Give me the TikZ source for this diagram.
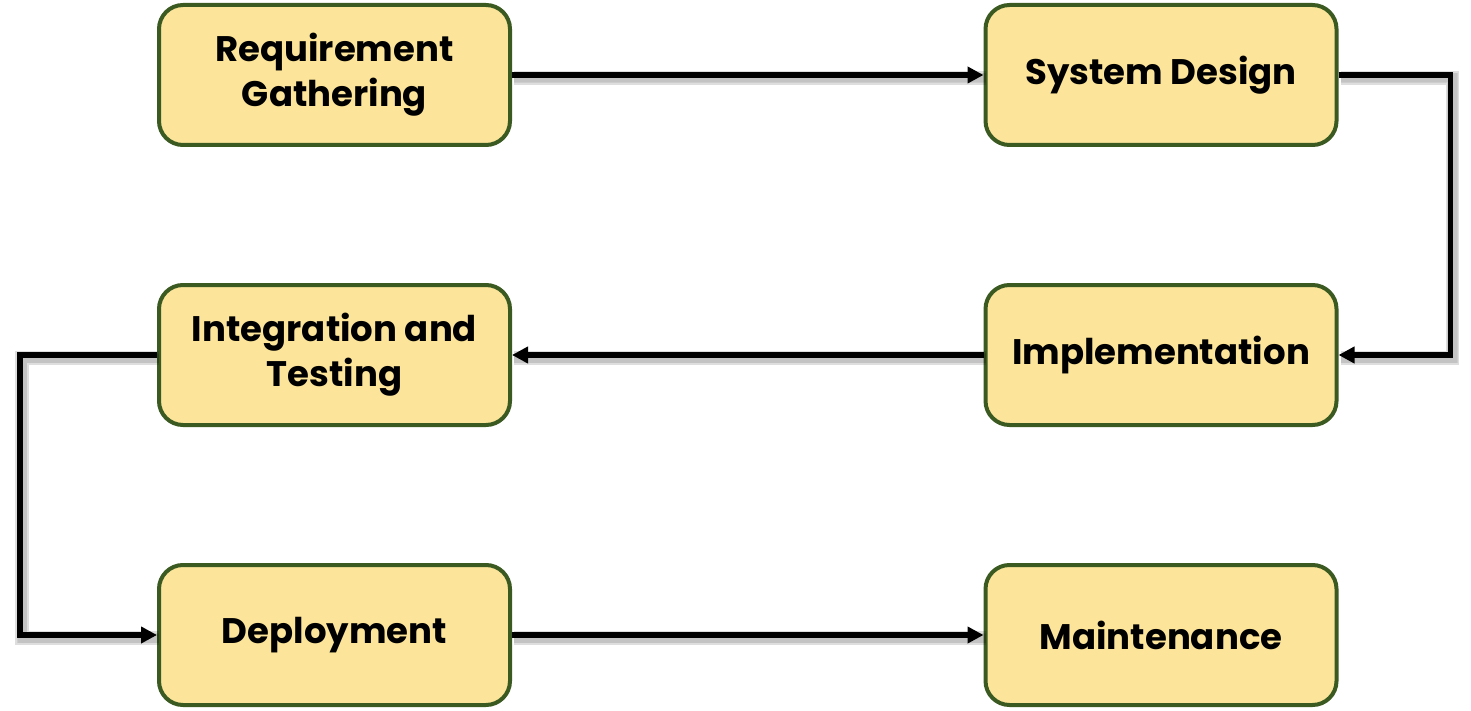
\documentclass[tikz,border=0pt]{standalone}
\usepackage{fontspec}
\setmainfont{Poppins}
\usetikzlibrary{arrows.meta}
\definecolor{boxfill}{HTML}{FCE59A}
\definecolor{boxline}{HTML}{3B5A22}
\begin{document}
\begin{tikzpicture}[x=1pt,y=-1pt,
 stage/.style={draw=boxline, line width=4pt, fill=boxfill, rounded corners=24pt,
   minimum width=351pt, minimum height=140pt, align=center,
   font=\fontsize{35.5}{45}\selectfont\bfseries, inner sep=0pt},
 shade/.style={preaction={draw=black, draw opacity=#1, -, line width=6pt+#1*60pt,
   transform canvas={shift={(2pt,-3pt)}}}},
 flow/.style={line width=5.5pt, -{Triangle[length=16pt,width=16pt]},
   shade=0.13, shade=0.08, shade=0.05}]
\useasboundingbox (0,0) rectangle (1471,711);
\node[stage] (rg) at (334.5,75) {Requirement\\Gathering};
\node[stage] (sd) at (1161,75) {System Design};
\node[stage] (it) at (334.5,355) {Integration and\\Testing};
\node[stage] (im) at (1161,355) {Implementation};
\node[stage] (dp) at (334.5,635) {Deployment};
\node[stage] (mt) at (1161,635) {Maintenance};
\draw[flow] (rg.east) -- (sd.west);
\draw[flow] (sd.east) -- ++(112,0) |- (im.east);
\draw[flow] (im.west) -- (it.east);
\draw[flow] (it.west) -- ++(-137,0) |- (dp.west);
\draw[flow] (dp.east) -- (mt.west);
\end{tikzpicture}
\end{document}
